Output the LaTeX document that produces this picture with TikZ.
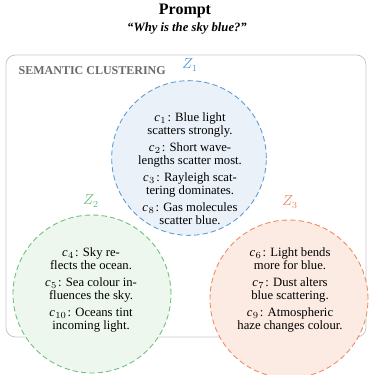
\documentclass[tikz,border=0pt]{standalone}
\usepackage{fontspec}
\setmainfont{Liberation Serif}
\definecolor{frame}{HTML}{C8C8C8}
\definecolor{headgray}{HTML}{6A6A6A}
\definecolor{zblue}{HTML}{5B9BD5}
\definecolor{zbluefill}{HTML}{EAF1F9}
\definecolor{zgreen}{HTML}{6CC07C}
\definecolor{zgreenfill}{HTML}{EEF7EE}
\definecolor{zorange}{HTML}{EE8A5E}
\definecolor{zorangefill}{HTML}{FCEBE2}
\newcommand{\claim}[1]{\textit{c}\kern0.3pt$_{#1}$\kern0.8pt:}
\tikzset{
  cluster/.style={circle, line width=0.65pt, dash pattern=on 4pt off 2.3pt, inner sep=0pt},
  claims/.style={align=center, inner sep=0pt, font=\fontsize{9.5}{10}\selectfont},
  zlabel/.style={font=\fontsize{10.5}{12}\selectfont},
}
\begin{document}
\begin{tikzpicture}[x=0.75pt, y=-0.75pt]
\useasboundingbox (0,0) rectangle (371,375);
% heading
\node (title) at (185,11) {\fontsize{12}{14}\selectfont\bfseries Prompt};
\node (prompt) at (187,28) {\fontsize{9.5}{12}\selectfont\bfseries\itshape ``Why is the sky blue?''};
% outer panel
\draw[frame, line width=0.6pt, rounded corners=7pt] (6,55) rectangle (366,337);
\node[anchor=west, text=headgray, font=\fontsize{9}{11}\selectfont\bfseries] (head) at (14,71) {SEMANTIC CLUSTERING};
% cluster discs
\node[cluster, draw=zblue, fill=zbluefill, minimum size=116pt] (z1) at (189,158) {};
\node[cluster, draw=zgreen, fill=zgreenfill, minimum size=118.5pt] (z2) at (92,294) {};
\node[cluster, draw=zorange, fill=zorangefill, minimum size=118.5pt] (z3) at (289,299) {};
% claims in each cluster
\node[claims] (t1) at (190,169) {
  \claim{1} Blue light\\ scatters strongly.\\[2.5pt]
  \claim{2} Short wave-\\ lengths scatter most.\\[2.5pt]
  \claim{3} Rayleigh scat-\\ tering dominates.\\[2.5pt]
  \claim{8} Gas molecules\\ scatter blue.};
\node[claims] (t2) at (91,290) {
  \claim{4} Sky re-\\ flects the ocean.\\[2.5pt]
  \claim{5} Sea colour in-\\ fluences the sky.\\[2.5pt]
  \claim{10} Oceans tint\\ incoming light.};
\node[claims] (t3) at (290,290) {
  \claim{6} Light bends\\ more for blue.\\[2.5pt]
  \claim{7} Dust alters\\ blue scattering.\\[2.5pt]
  \claim{9} Atmospheric\\ haze changes colour.};
% cluster names
\node[zlabel, text=zblue] (l1) at (190,65) {$Z_1$};
\node[zlabel, text=zgreen] (l2) at (91,201) {$Z_2$};
\node[zlabel, text=zorange] (l3) at (290,202) {$Z_3$};
\end{tikzpicture}
\end{document}
